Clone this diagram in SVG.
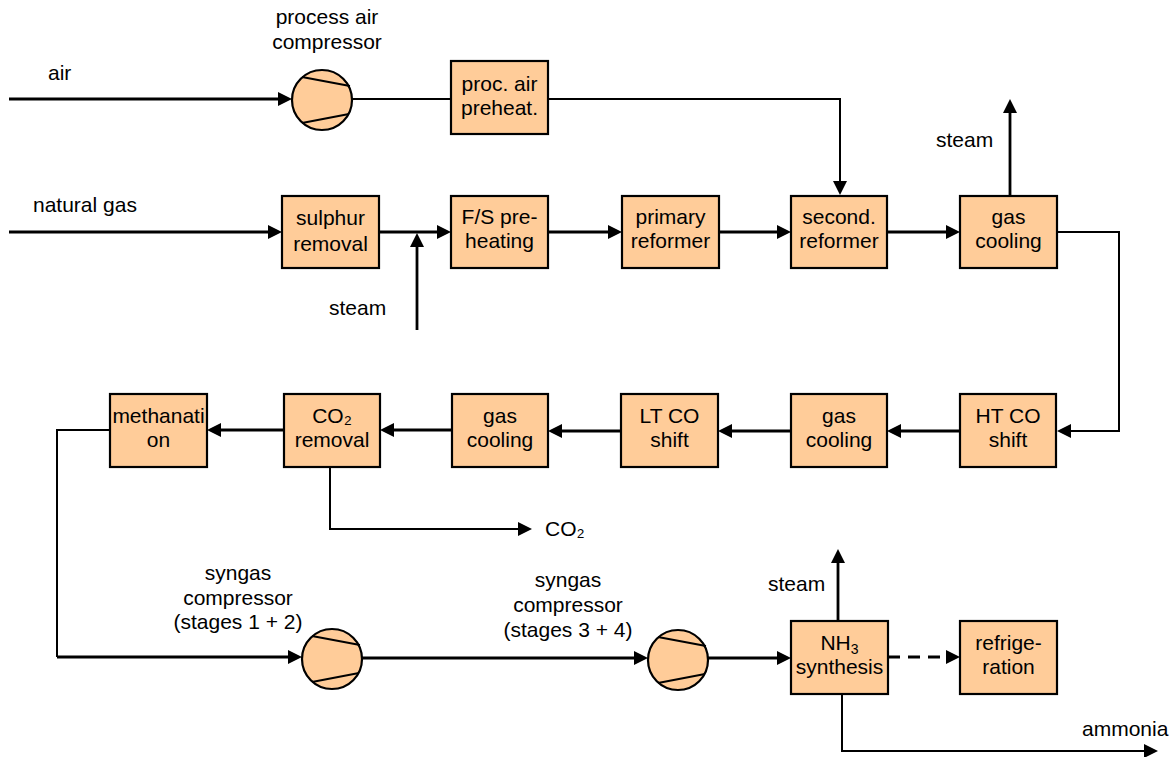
<svg xmlns="http://www.w3.org/2000/svg" width="1170" height="757" viewBox="0 0 1170 757">
<defs>
<marker id="arr" markerUnits="userSpaceOnUse" markerWidth="14" markerHeight="14" refX="10" refY="7" orient="auto">
<path d="M0,0 L14,7 L0,14 z" fill="#000"/>
</marker>
<style>
.box{fill:#FFCC99;stroke:#000;stroke-width:2.2}
.comp{fill:#FFCC99;stroke:#000;stroke-width:2.2}
.chord{stroke:#000;stroke-width:2;fill:none}
.t{font-family:"Liberation Sans",Arial,sans-serif;font-size:21px;fill:#000}
.c{text-anchor:middle}
.ln{fill:none;stroke:#000;stroke-width:2.8}
.thin{fill:none;stroke:#000;stroke-width:2}
.a{marker-end:url(#arr)}
</style>
</defs>
<rect width="1170" height="757" fill="#fff"/>

<g id="connectors">
<path class="ln a" d="M9,99 H288"/>
<path class="thin" d="M352,99 H451"/>
<path class="thin a" d="M548,99 H840 V191"/>
<path class="ln a" d="M9,232 H278"/>
<path class="ln a" d="M379,232 H447"/>
<path class="ln a" d="M417,330 V237"/>
<path class="ln a" d="M548,232 H618"/>
<path class="ln a" d="M719,232 H787"/>
<path class="ln a" d="M887,232 H956"/>
<path class="ln a" d="M1010,196 V103"/>
<path class="thin a" d="M1057,232 H1119 V431 H1061"/>
<path class="ln a" d="M960,431 H891"/>
<path class="ln a" d="M791,431 H722"/>
<path class="ln a" d="M621,431 H552"/>
<path class="ln a" d="M452,430 H384"/>
<path class="ln a" d="M284,430 H211"/>
<path class="thin a" d="M330,467 V529 H528"/>
<path class="thin" d="M110,430 H57 V657"/>
<path class="ln a" d="M57,657 H298"/>
<path class="ln a" d="M362,658 H644"/>
<path class="ln a" d="M708,658 H787"/>
<path class="ln a" d="M838,621 V553"/>
<path class="ln a" d="M888,657 H956" stroke-dasharray="12,8"/>
<path class="thin a" d="M842,694 V751 H1154"/>
</g>

<g id="process-air-compressor">
<circle class="comp" cx="322" cy="100" r="30"/>
<path class="chord" d="M302,77 L350,86 M302,123 L349,114"/>
<text class="t c" x="327" y="24">process air</text>
<text class="t c" x="327" y="49">compressor</text>
</g>
<g id="proc-air-preheat">
<rect class="box" x="451" y="61" width="97" height="73"/>
<text class="t c" x="499.5" y="91">proc. air</text>
<text class="t c" x="499.5" y="115">preheat.</text>
</g>
<g id="sulphur-removal">
<rect class="box" x="282" y="196" width="97" height="72"/>
<text class="t c" x="330.5" y="225" font-size="23">sulphur</text>
<text class="t c" x="330.5" y="251" font-size="23">removal</text>
</g>
<g id="fs-preheating">
<rect class="box" x="451" y="196" width="97" height="72"/>
<text class="t c" x="499.5" y="224">F/S pre-</text>
<text class="t c" x="499.5" y="248">heating</text>
</g>
<g id="primary-reformer">
<rect class="box" x="622" y="196" width="97" height="72"/>
<text class="t c" x="670.5" y="224">primary</text>
<text class="t c" x="670.5" y="248">reformer</text>
</g>
<g id="second-reformer">
<rect class="box" x="791" y="196" width="96" height="72"/>
<text class="t c" x="839" y="224">second.</text>
<text class="t c" x="839" y="248">reformer</text>
</g>
<g id="gas-cooling-1">
<rect class="box" x="960" y="196" width="97" height="72"/>
<text class="t c" x="1008.5" y="224">gas</text>
<text class="t c" x="1008.5" y="248">cooling</text>
</g>
<g id="ht-co-shift">
<rect class="box" x="960" y="394" width="96" height="73"/>
<text class="t c" x="1008" y="423">HT CO</text>
<text class="t c" x="1008" y="447">shift</text>
</g>
<g id="gas-cooling-2">
<rect class="box" x="791" y="394" width="96" height="73"/>
<text class="t c" x="839" y="423">gas</text>
<text class="t c" x="839" y="447">cooling</text>
</g>
<g id="lt-co-shift">
<rect class="box" x="621" y="394" width="97" height="73"/>
<text class="t c" x="669.5" y="423">LT CO</text>
<text class="t c" x="669.5" y="447">shift</text>
</g>
<g id="gas-cooling-3">
<rect class="box" x="452" y="394" width="96" height="73"/>
<text class="t c" x="500" y="423">gas</text>
<text class="t c" x="500" y="447">cooling</text>
</g>
<g id="co2-removal">
<rect class="box" x="284" y="394" width="96" height="73"/>
<text class="t c" x="332" y="423">CO₂</text>
<text class="t c" x="332" y="447">removal</text>
</g>
<g id="methanation">
<rect class="box" x="110" y="394" width="97" height="73"/>
<text class="t c" x="158.5" y="423" font-size="22">methanati</text>
<text class="t c" x="158.5" y="447">on</text>
</g>
<g id="syngas-compressor-1">
<circle class="comp" cx="332" cy="659" r="30"/>
<path class="chord" d="M312,636 L360,645 M312,682 L359,673"/>
<text class="t c" x="238" y="580">syngas</text>
<text class="t c" x="238" y="605">compressor</text>
<text class="t c" x="238" y="629">(stages 1 + 2)</text>
</g>
<g id="syngas-compressor-2">
<circle class="comp" cx="678" cy="660" r="30"/>
<path class="chord" d="M658,637 L706,646 M658,683 L705,674"/>
<text class="t c" x="568" y="587">syngas</text>
<text class="t c" x="568" y="612">compressor</text>
<text class="t c" x="568" y="637">(stages 3 + 4)</text>
</g>
<g id="nh3-synthesis">
<rect class="box" x="791" y="621" width="97" height="73"/>
<text class="t c" x="839.5" y="650">NH<tspan font-size="14" dy="4">3</tspan></text>
<text class="t c" x="839.5" y="674">synthesis</text>
</g>
<g id="refrigeration">
<rect class="box" x="960" y="621" width="97" height="73"/>
<text class="t c" x="1008.5" y="650">refrige-</text>
<text class="t c" x="1008.5" y="674">ration</text>
</g>

<g id="labels">
<text class="t" x="48" y="80">air</text>
<text class="t" x="33" y="212">natural gas</text>
<text class="t" x="329" y="315">steam</text>
<text class="t" x="936" y="147">steam</text>
<text class="t" x="545" y="536">CO₂</text>
<text class="t" x="768" y="591">steam</text>
<text class="t" x="1082" y="736">ammonia</text>
</g>
</svg>
